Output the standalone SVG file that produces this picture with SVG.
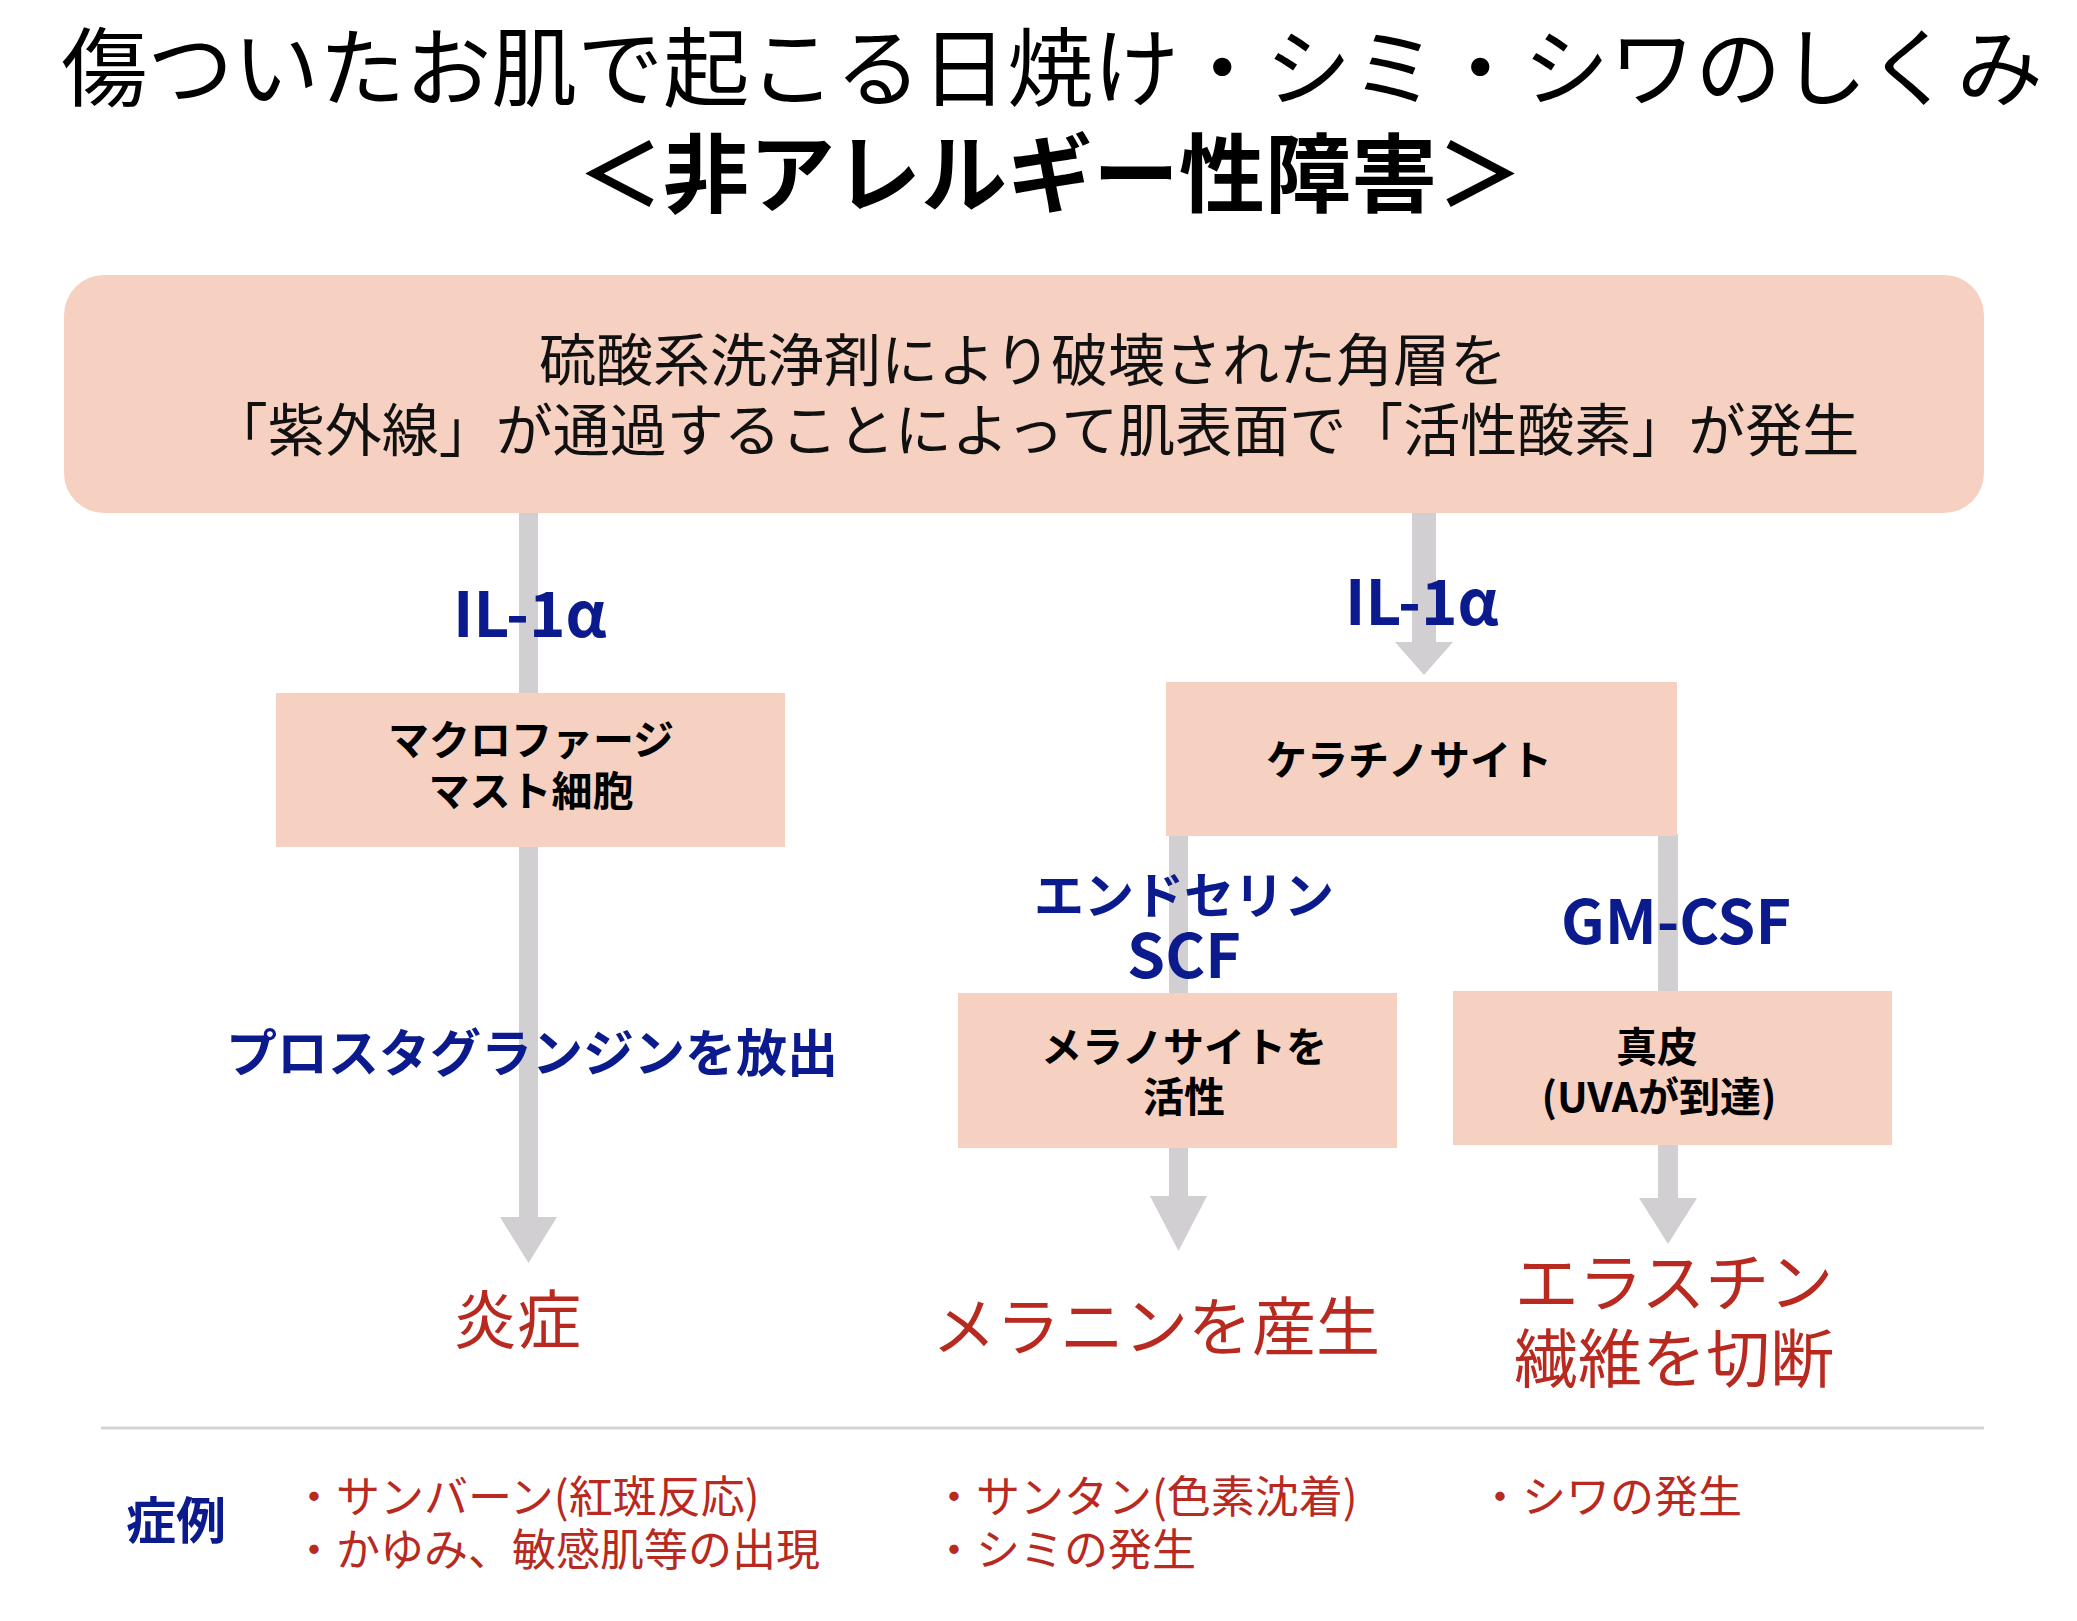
<svg xmlns="http://www.w3.org/2000/svg" width="2077" height="1621" viewBox="0 0 2077 1621">
<style>
text{font-family:"Noto Sans CJK JP","Noto Sans",sans-serif;}
.title{font-size:86px;font-weight:400;fill:#000;text-anchor:middle;}
.title2{font-size:86px;font-weight:700;fill:#000;text-anchor:middle;}
.box{fill:#F6D1C1;}
.main{font-size:57px;fill:#111;text-anchor:middle;}
.node{font-size:41px;font-weight:700;fill:#000;text-anchor:middle;}
.lbl{font-weight:700;fill:#0B1A8C;}
.out{font-size:64px;fill:#B8291F;text-anchor:middle;}
.sym{font-size:44px;fill:#B8291F;}
.stem{stroke:#D1CFD1;fill:none;}
.head{fill:#D1CFD1;}
</style>
<rect width="2077" height="1621" fill="#fff"/>
<g id="title">
<text class="title" x="1052" y="100">傷ついたお肌で起こる日焼け・シミ・シワのしくみ</text>
<text class="title2" x="1050" y="206">＜非アレルギー性障害＞</text>
</g>
<g id="connectors">
<line class="stem" x1="528.5" y1="510" x2="528.5" y2="1218" stroke-width="19"/>
<polygon class="head" points="500,1217 557,1217 528.5,1263"/>
<line class="stem" x1="1424" y1="510" x2="1424" y2="643" stroke-width="24"/>
<polygon class="head" points="1395,642 1453,642 1424,675"/>
<line class="stem" x1="1178.5" y1="834" x2="1178.5" y2="1197" stroke-width="19"/>
<polygon class="head" points="1150,1196 1207,1196 1178.5,1251"/>
<line class="stem" x1="1668" y1="834" x2="1668" y2="1199" stroke-width="20"/>
<polygon class="head" points="1639,1198 1697,1198 1668,1244"/>
<line x1="101" y1="1428" x2="1984" y2="1428" stroke="#D3D3D3" stroke-width="3"/>
</g>
<g id="source">
<rect class="box" x="64" y="275" width="1920" height="238" rx="40" ry="40"/>
<text class="main" x="1023" y="381">硫酸系洗浄剤により破壊された角層を</text>
<text class="main" x="1035" y="451">「紫外線」が通過することによって肌表面で「活性酸素」が発生</text>
</g>
<g id="label-il1a-left"><text class="lbl" x="453" y="637" font-size="62">IL-1α</text></g>
<g id="label-il1a-right"><text class="lbl" x="1345" y="625" font-size="62">IL-1α</text></g>
<g id="macrophage">
<rect class="box" x="276" y="693" width="509" height="154"/>
<text class="node" x="531" y="755">マクロファージ</text>
<text class="node" x="531" y="806">マスト細胞</text>
</g>
<g id="keratinocyte">
<rect class="box" x="1166" y="682" width="511" height="154"/>
<text class="node" x="1409" y="775">ケラチノサイト</text>
</g>
<g id="label-endothelin">
<text class="lbl" x="1184" y="914" font-size="50" text-anchor="middle">エンドセリン</text>
<text class="lbl" x="1184" y="978" font-size="61" text-anchor="middle">SCF</text>
</g>
<g id="label-gmcsf"><text class="lbl" x="1676" y="944" font-size="61" text-anchor="middle">GM-CSF</text></g>
<g id="label-prostaglandin"><text class="lbl" x="532" y="1072" font-size="51" text-anchor="middle">プロスタグランジンを放出</text></g>
<g id="melanocyte">
<rect class="box" x="958" y="993" width="439" height="155"/>
<text class="node" x="1184" y="1062">メラノサイトを</text>
<text class="node" x="1184" y="1112">活性</text>
</g>
<g id="dermis">
<rect class="box" x="1453" y="991" width="439" height="154"/>
<text class="node" x="1657" y="1062">真皮</text>
<text class="node" x="1659" y="1112">(UVAが到達)</text>
</g>
<g id="out-inflammation"><text class="out" x="517" y="1343">炎症</text></g>
<g id="out-melanin"><text class="out" x="1156" y="1350">メラニンを産生</text></g>
<g id="out-elastin">
<text class="out" x="1674" y="1306">エラスチン</text>
<text class="out" x="1674" y="1382">繊維を切断</text>
</g>
<g id="symptoms">
<text class="lbl" x="126" y="1539" font-size="50">症例</text>
<text class="sym" x="292" y="1513">・サンバーン(紅斑反応)</text>
<text class="sym" x="292" y="1566">・かゆみ、敏感肌等の出現</text>
<text class="sym" x="932" y="1513">・サンタン(色素沈着)</text>
<text class="sym" x="932" y="1566">・シミの発生</text>
<text class="sym" x="1478" y="1513">・シワの発生</text>
</g>
</svg>
